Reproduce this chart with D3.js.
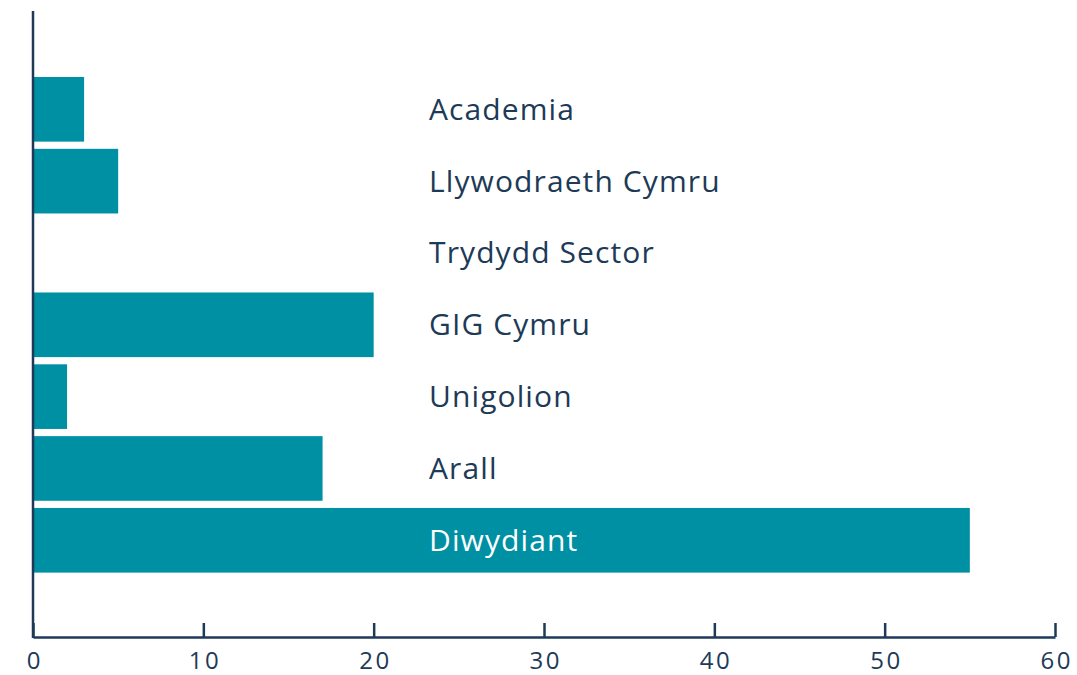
<!DOCTYPE html>
<html><head><meta charset="utf-8">
<script src="https://cdn.jsdelivr.net/npm/d3@7"></script>
<style>body{margin:0;background:#fff}svg{display:block}</style>
</head><body>
<script>
const categories = ["Academia","Llywodraeth Cymru","Trydydd Sector","GIG Cymru","Unigolion","Arall","Diwydiant"];
const values = [3,5,0,20,2,17,55];
const xTicks = [0,10,20,30,40,50,60];

const W = 1077, H = 675;
const textColor = "#1d3a57", barColor = "#0090a4";
const svg = d3.select("body").append("svg").attr("width",W).attr("height",H);
const x = d3.scaleLinear().domain([0,60]).range([33,1055]);
const y = d3.scaleBand().domain(categories).range([73.4,576.2]).paddingInner(0.1).paddingOuter(0.05);

svg.selectAll("rect.bar").data(categories).join("rect")
  .attr("x", x(0)).attr("y", d=>y(d))
  .attr("width", (d,i)=>x(values[i])-x(0)).attr("height", y.bandwidth())
  .attr("fill", barColor);

svg.selectAll("text.lbl").data(categories).join("text")
  .attr("x", x(23.25)).attr("y", d=>y(d)+y.bandwidth()/2)
  .attr("dy","0.35em")
  .attr("font-family","'Open Sans', sans-serif").attr("font-size",30)
  .attr("letter-spacing","1.1px")
  .attr("fill",(d,i)=> values[i] > 23.25 ? "#fff" : textColor)
  .text(d=>d);

const xAxis = d3.axisBottom(x).tickValues(xTicks).tickSize(-14).tickPadding(15).tickSizeOuter(0);
const gx = svg.append("g").attr("transform","translate(0,637)").call(xAxis);
gx.select(".domain").attr("stroke",textColor).attr("stroke-width",2.5);
gx.selectAll(".tick line").attr("stroke",textColor).attr("stroke-width",2.5);
gx.selectAll(".tick text").attr("fill",textColor).attr("font-family","'Open Sans', sans-serif")
  .attr("font-size",24).attr("letter-spacing","2.5px").attr("dx","1.25");

svg.append("line").attr("x1",x(0)).attr("x2",x(0)).attr("y1",11).attr("y2",638)
  .attr("stroke",textColor).attr("stroke-width",2.5);
</script>
</body></html>
